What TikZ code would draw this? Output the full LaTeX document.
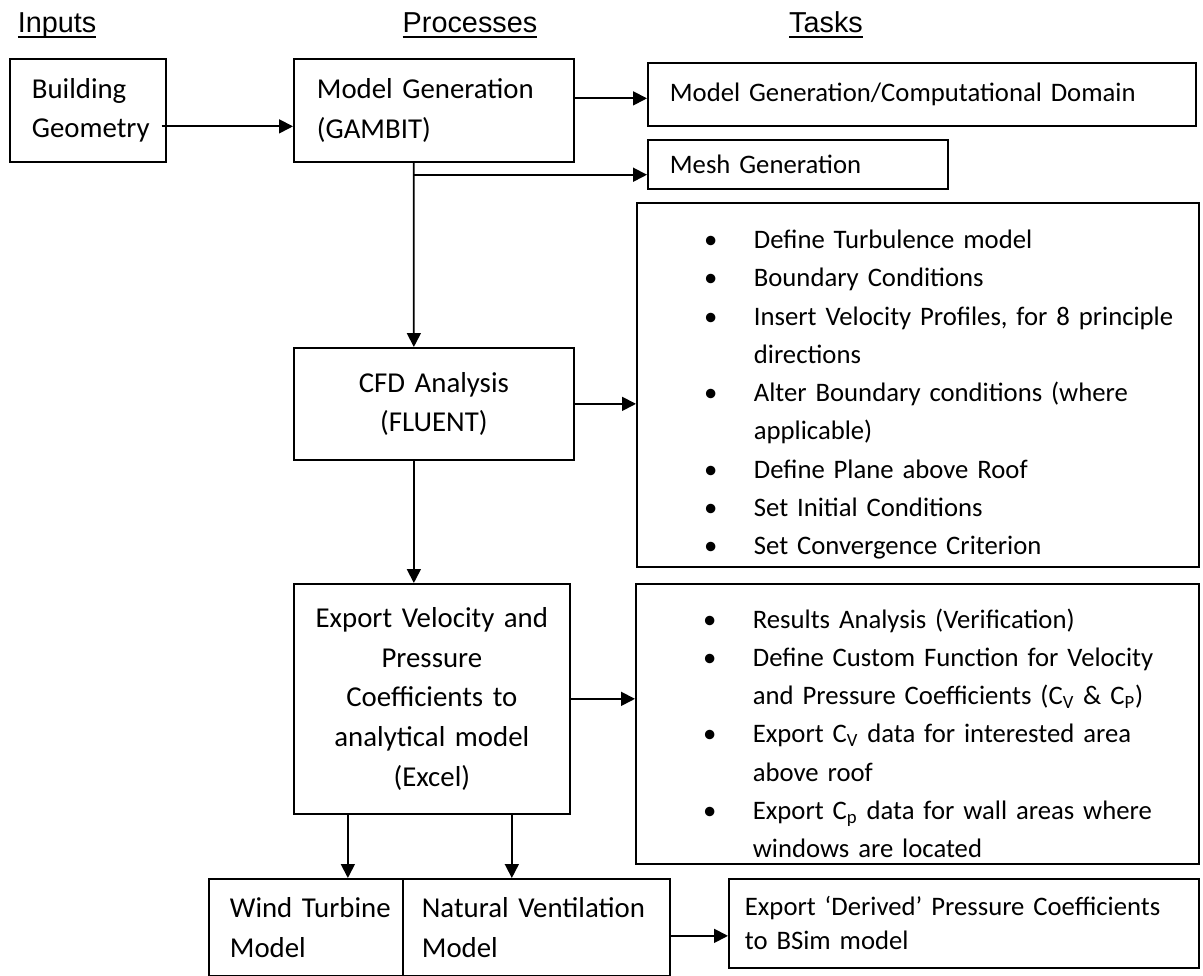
\documentclass[tikz,border=0pt]{standalone}
\usepackage{fontspec}
\setmainfont{Carlito}
\newfontfamily\hdrfont{Liberation Sans}
\usepackage{enumitem}
\usetikzlibrary{arrows.meta}
\newcommand{\taskfnt}{\fontsize{15.2}{21.8}\selectfont}
\newcommand{\procfnt}{\fontsize{16.4}{22.6}\selectfont}
\newcommand{\bul}{\hbox to 0pt{\hss\textbullet\hss}}
\newcommand{\hul}[1]{\setbox0\hbox{#1}\rlap{\raisebox{-2.6pt}{\rule{\wd0}{1.1pt}}}\box0}

\begin{document}
\begin{tikzpicture}[x=0.02cm,y=-0.02cm,line width=1pt,
  box/.style={draw,anchor=north west,inner ysep=0pt,align=left,font=\taskfnt},
  pbox/.style={box,font=\procfnt},
  cbox/.style={pbox,align=center,inner xsep=0pt},
  head/.style={anchor=base,font=\hdrfont\fontsize{16.4}{19}\selectfont},
  arr/.style={-{Triangle[length=0.28cm,width=0.28cm]}}]

\useasboundingbox (0,0) rectangle (1203,976);

\node[head](h1) at (57,33){\hul{Inputs}};
\node[head](h2) at (470,33){\hul{Processes}};
\node[head](h3) at (826,33){\hul{Tasks}};

% processes
\node[pbox,inner xsep=0.44cm,text width=2.24cm,minimum height=2.06cm](bg) at (9,58){Building\\Geometry};
\node[pbox,inner xsep=0.46cm,text width=4.68cm,minimum height=2.06cm](mg) at (293,58){Model Generation\\(GAMBIT)};
\node[cbox,text width=5.6cm,minimum height=2.24cm](cfd) at (293,347){CFD Analysis\\(FLUENT)};
\node[cbox,text width=5.52cm,minimum height=4.6cm](ex) at (293,583){Export Velocity and\\Pressure\\Coefficients to\\analytical model\\(Excel)};
\node[pbox,inner xsep=0.42cm,text width=3.04cm,minimum height=1.94cm](wt) at (208,878){\mbox{Wind Turbine}\\Model};
\node[pbox,inner xsep=0.38cm,text width=4.58cm,minimum height=1.94cm](nv) at (402,878){\mbox{Natural Ventilation}\\Model};

% tasks
\node[box,inner xsep=0.44cm,text width=10.08cm,minimum height=1.26cm](dom) at (647,62){Model Generation/Computational Domain};
\node[box,inner xsep=0.44cm,text width=5.12cm,minimum height=0.98cm](mesh) at (647,139){Mesh Generation};
\node[box,inner xsep=0pt,text width=11.24cm,minimum height=7.28cm](cfdt) at (636,202){%
\begin{itemize}[nosep,leftmargin=2.34cm,labelsep=0.86cm,labelwidth=0pt,label=\bul]
\item Define Turbulence model
\item Boundary Conditions
\item Insert Velocity Profiles, for 8 principle\\directions
\item Alter Boundary conditions (where\\applicable)
\item Define Plane above Roof
\item Set Initial Conditions
\item Set Convergence Criterion
\end{itemize}};
\node[box,inner xsep=0pt,text width=11.26cm,minimum height=5.6cm](ext) at (635,583){%
\begin{itemize}[nosep,leftmargin=2.34cm,labelsep=0.86cm,labelwidth=0pt,label=\bul]
\item Results Analysis (Verification)
\item Define Custom Function for Velocity\\and Pressure Coefficients (C\textsubscript{V} \& C\textsubscript{P})
\item Export C\textsubscript{V} data for interested area\\above roof
\item Export C\textsubscript{p} data for wall areas where\\windows are located
\end{itemize}};
\node[box,inner xsep=0.32cm,text width=8.76cm,minimum height=1.78cm,font=\fontsize{15.2}{19.4}\selectfont](bsim) at (728,878){Export ‘Derived’ Pressure Coefficients\\to BSim model};

\coordinate (br) at ([xshift=-0.4cm,yshift=-0.24cm]mg.south);

\draw[arr] ([xshift=-0.1cm,yshift=-0.32cm]bg.east) -- ([yshift=-0.32cm]mg.west);
\draw[arr] ([yshift=0.24cm]mg.east) -- ([yshift=0.24cm]mg.east -| dom.west);
\draw[arr] (br) -- (br -| mesh.west);
\draw[arr] ([xshift=-0.4cm]mg.south) -- ([xshift=-0.4cm]cfd.north);
\draw[arr] (cfd.east) -- (cfd.east -| cfdt.west);
\draw[arr] ([xshift=-0.4cm]cfd.south) -- ([xshift=-0.4cm]cfd.south |- ex.north);
\draw[arr] (ex.east) -- (ex.east -| ext.west);
\draw[arr] ([xshift=-1.68cm]ex.south) -- ([xshift=-1.68cm]ex.south |- wt.north);
\draw[arr] ([xshift=1.6cm]ex.south) -- ([xshift=1.6cm]ex.south |- nv.north);
\draw[arr] ([yshift=-0.17cm]nv.east) -- ([yshift=-0.17cm]nv.east -| bsim.west);
\end{tikzpicture}
\end{document}
